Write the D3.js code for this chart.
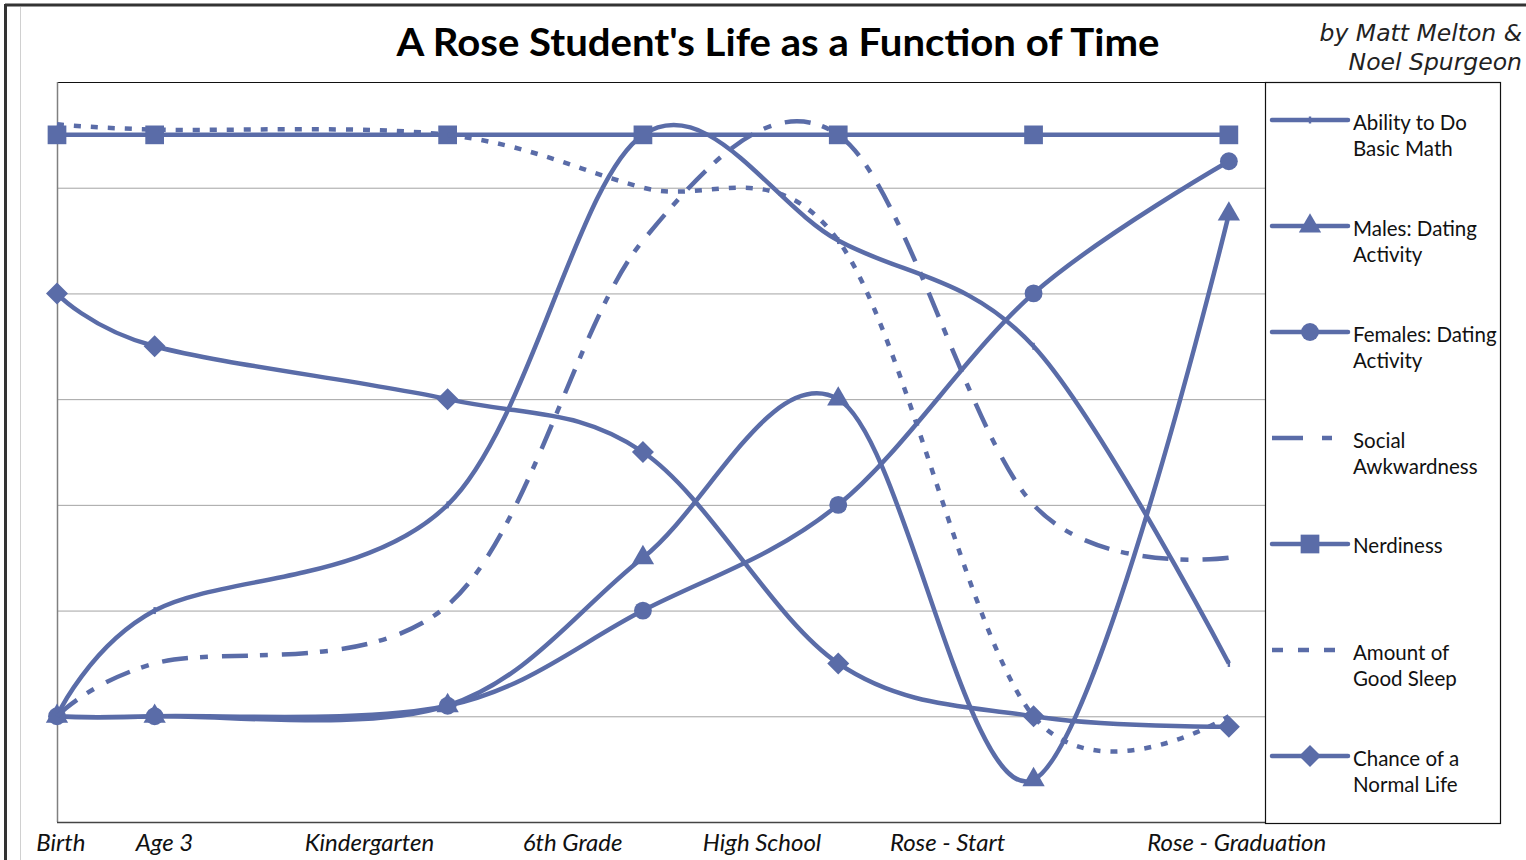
<!DOCTYPE html>
<html>
<head>
<meta charset="utf-8">
<script src="https://cdn.jsdelivr.net/npm/d3@7"></script>
<style>
body { margin: 0; background: #fff; }
</style>
</head>
<body>
<div id="chart"></div>
<script>
// stages along the time axis (x value of each point) and where the captions sit
var stages = ["Birth", "Age 3", "Kindergarten", "6th Grade", "High School", "Rose - Start", "Rose - Graduation"];
var stageX = [0, 0.5, 2, 3, 4, 5, 6];
var labelX = [0.02, 0.55, 1.6, 2.64, 3.61, 4.56, 6.04];

var mathAbility = [1, 2, 3, 6.5, 5.5, 4.5, 1.5];
var malesDating = [1, 1, 1.1, 2.5, 4, 0.4, 5.75];
var femalesDating = [1, 1, 1.1, 2, 3, 5, 6.25];
var socialAwkwardness = [1, 1.5, 2.05, 5.5, 6.5, 3, 2.5];
var nerdiness = [6.5, 6.5, 6.5, 6.5, 6.5, 6.5, 6.5];
var goodSleep = [6.6, 6.55, 6.5, 6, 5.5, 1, 1];
var normalLife = [5, 4.5, 4, 3.5, 1.5, 1, 0.9];

var gridTicks = [1, 2, 3, 4, 5, 6];

var color = "#5a6ca8";
var W = 1526, H = 860;
var plot = {left: 57, top: 82, right: 1265, bottom: 822};

var series = [
    {name: ["Ability to Do", "Basic Math"], values: mathAbility, dash: null, legendDash: null, marker: "tick"},
    {name: ["Males: Dating", "Activity"], values: malesDating, dash: null, legendDash: null, marker: "triangle"},
    {name: ["Females: Dating", "Activity"], values: femalesDating, dash: null, legendDash: null, marker: "circle"},
    {name: ["Social", "Awkwardness"], values: socialAwkwardness, dash: "26,12,8,14", legendDash: "31,19,10,40", marker: null},
    {name: ["Nerdiness"], values: nerdiness, dash: null, legendDash: null, marker: "square"},
    {name: ["Amount of", "Good Sleep"], values: goodSleep, dash: "7,10", legendDash: "11,15", marker: null},
    {name: ["Chance of a", "Normal Life"], values: normalLife, dash: null, legendDash: null, marker: "diamond"}
];

var svg = d3.select("#chart").append("svg")
    .attr("width", W).attr("height", H);

var x = d3.scaleLinear().domain([0, 6.185]).range([plot.left, plot.right]);
var y = d3.scaleLinear().domain([0, 7]).range([plot.bottom, plot.top]);

// outer frame of the sheet
svg.append("line").attr("x1", 5).attr("y1", 5).attr("x2", W).attr("y2", 5)
    .style("stroke", "#333").style("stroke-width", 3);
svg.append("line").attr("x1", 5.5).attr("y1", 4).attr("x2", 5.5).attr("y2", H)
    .style("stroke", "#333").style("stroke-width", 3);
svg.append("line").attr("x1", 20.5).attr("y1", 7).attr("x2", 20.5).attr("y2", H)
    .style("stroke", "#d0d0d0").style("stroke-width", 1);

// gridlines
var grid = svg.append("g")
    .attr("transform", "translate(" + plot.left + ",0)")
    .call(d3.axisLeft(y).tickValues(gridTicks).tickSize(-(plot.right - plot.left)).tickFormat(""));
grid.select(".domain").remove();
grid.selectAll("line").style("stroke", "#a3a3a3").style("stroke-width", 1);

// plot area border
svg.append("line").attr("x1", plot.left).attr("y1", plot.top + 0.5).attr("x2", plot.right).attr("y2", plot.top + 0.5)
    .style("stroke", "#111").style("stroke-width", 1.2);
svg.append("line").attr("x1", plot.left + 0.5).attr("y1", plot.top).attr("x2", plot.left + 0.5).attr("y2", plot.bottom)
    .style("stroke", "#808080").style("stroke-width", 1.5);
svg.append("line").attr("x1", plot.left).attr("y1", plot.bottom + 0.5).attr("x2", plot.right).attr("y2", plot.bottom + 0.5)
    .style("stroke", "#444").style("stroke-width", 1.5);

var line = d3.line()
    .x(function (d) { return x(d[0]); })
    .y(function (d) { return y(d[1]); })
    .curve(d3.curveCardinal.tension(0));

function markerPath(type) {
    if (type == "triangle") return d3.symbol().type(d3.symbolTriangle).size(215)();
    if (type == "circle") return d3.symbol().type(d3.symbolCircle).size(250)();
    if (type == "square") return d3.symbol().type(d3.symbolSquare).size(350)();
    if (type == "diamond") return "M0,-11L11,0L0,11L-11,0Z";
    if (type == "tick") return "M-1.2,-3.5h2.4v7h-2.4Z";
    return null;
}

var plotG = svg.append("g");
series.forEach(function (s) {
    var pts = s.values.map(function (v, i) { return [stageX[i], v]; });
    plotG.append("path")
        .datum(pts)
        .attr("d", line)
        .style("fill", "none")
        .style("stroke", color)
        .style("stroke-width", 4.5)
        .style("stroke-dasharray", s.dash);
    if (s.marker) {
        plotG.selectAll(null)
            .data(pts)
            .enter().append("path")
            .attr("d", markerPath(s.marker))
            .attr("transform", function (d) { return "translate(" + x(d[0]) + "," + y(d[1]) + ")"; })
            .style("fill", color);
    }
});

// legend
var legend = svg.append("g");
legend.append("rect")
    .attr("x", plot.right + 0.5).attr("y", plot.top + 0.5)
    .attr("width", 235).attr("height", 741)
    .style("fill", "#fff").style("stroke", "#111").style("stroke-width", 1.2);

series.forEach(function (s, i) {
    var ly = 120 + i * 106;
    legend.append("line")
        .attr("x1", 1272).attr("y1", ly).attr("x2", 1348).attr("y2", ly)
        .style("stroke", color).style("stroke-width", 4.5)
        .style("stroke-linecap", s.legendDash ? "butt" : "round")
        .style("stroke-dasharray", s.legendDash);
    if (s.marker) {
        legend.append("path")
            .attr("d", markerPath(s.marker))
            .attr("transform", "translate(1310," + ly + ")")
            .style("fill", color);
    }
    var t = legend.append("text")
        .attr("x", 1353)
        .attr("y", ly + (s.name.length > 1 ? 10 : 9))
        .style("font-family", "Lato, 'Open Sans', sans-serif")
        .style("font-size", "20.5px")
        .style("fill", "#111");
    s.name.forEach(function (n, j) {
        t.append("tspan").attr("x", 1353).attr("dy", j == 0 ? 0 : 26).text(n);
    });
});

// stage captions below the plot
svg.selectAll(".stage")
    .data(stages)
    .enter().append("text")
    .attr("class", "stage")
    .attr("x", function (d, i) { return x(labelX[i]); })
    .attr("y", 851)
    .attr("text-anchor", "middle")
    .style("font-family", "Lato, 'Open Sans', sans-serif")
    .style("font-style", "italic")
    .style("font-size", "24px")
    .style("fill", "#111")
    .text(function (d) { return d; });

// title
svg.append("text")
    .attr("x", 778).attr("y", 56)
    .attr("text-anchor", "middle")
    .attr("textLength", 763)
    .attr("lengthAdjust", "spacingAndGlyphs")
    .style("font-family", "Lato, 'Open Sans', sans-serif")
    .style("font-weight", "bold")
    .style("font-size", "38px")
    .style("fill", "#000")
    .text("A Rose Student's Life as a Function of Time");

// authors
var by = svg.append("text")
    .attr("text-anchor", "end")
    .style("font-family", "'DejaVu Sans', sans-serif")
    .style("font-style", "italic")
    .style("font-size", "23.5px")
    .style("fill", "#222");
by.append("tspan").attr("x", 1522).attr("y", 41).text("by Matt Melton &");
by.append("tspan").attr("x", 1522).attr("y", 70).text("Noel Spurgeon");
</script>
</body>
</html>
